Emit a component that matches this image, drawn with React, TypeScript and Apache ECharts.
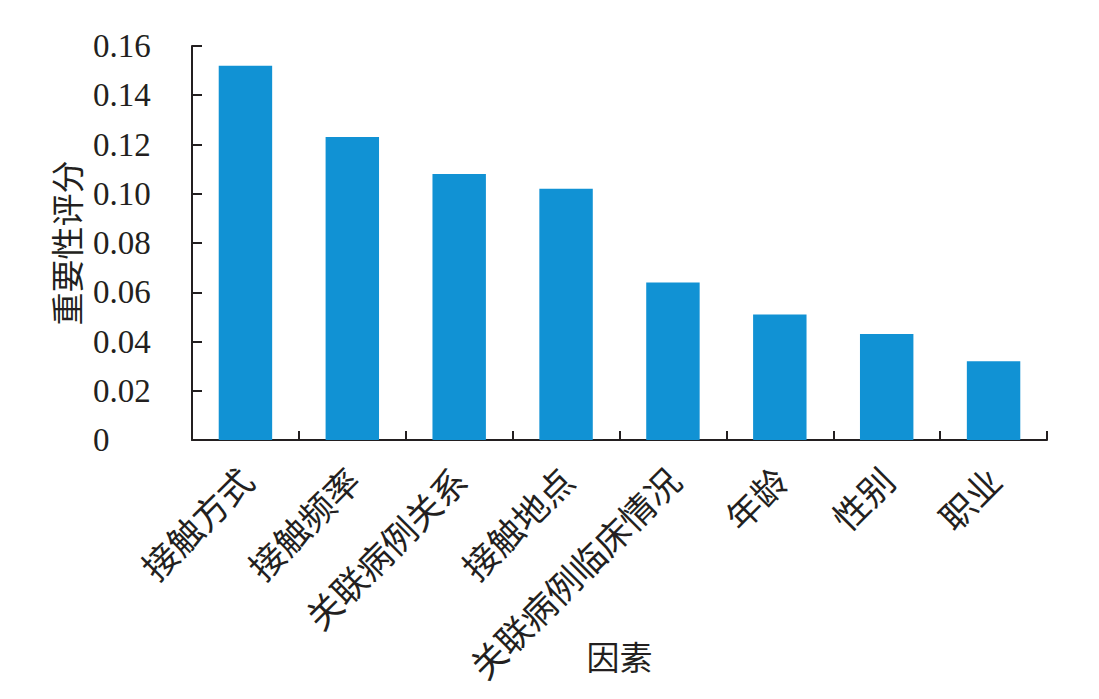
import React, { useEffect, useRef } from "react";
import * as echarts from "echarts";

const categories = ["接触方式", "接触频率", "关联病例关系", "接触地点", "关联病例临床情况", "年龄", "性别", "职业"];
const values = [0.152, 0.123, 0.108, 0.102, 0.064, 0.051, 0.043, 0.032];
const yTicks = [0, 0.02, 0.04, 0.06, 0.08, 0.1, 0.12, 0.14, 0.16];

const ink = "#231f20";
const serif = "'Liberation Serif', 'Noto Sans CJK SC', serif";
const cjk = "'Noto Sans CJK SC', serif";

export default function App() {
  const ref = useRef<HTMLDivElement>(null);
  useEffect(() => {
    if (!ref.current) return;
    const chart = echarts.init(ref.current, null, { renderer: "svg" });
    chart.setOption({
      animation: false,
      backgroundColor: "#ffffff",
      grid: { left: 192, right: 52, top: 46, bottom: 259, containLabel: false, outerBoundsMode: "none" },
      xAxis: {
        type: "category",
        data: categories,
        name: "因素",
        nameLocation: "middle",
        nameGap: 199,
        nameMoveOverlap: false,
        nameTextStyle: { fontFamily: cjk, fontSize: 33, color: ink },
        axisLine: { show: true, lineStyle: { color: ink, width: 2 } },
        axisTick: { show: true, inside: true, length: 9, alignWithLabel: false, lineStyle: { color: ink, width: 2 } },
        axisLabel: { rotate: 45, margin: 33, fontFamily: cjk, fontSize: 35, color: ink, interval: 0 },
      },
      yAxis: {
        type: "value",
        min: yTicks[0],
        max: yTicks[yTicks.length - 1],
        interval: 0.02,
        name: "重要性评分",
        nameLocation: "middle",
        nameRotate: 90,
        nameGap: 110,
        nameMoveOverlap: false,
        nameTextStyle: { fontFamily: cjk, fontSize: 33, color: ink },
        splitLine: { show: false },
        axisLine: { show: true, lineStyle: { color: ink, width: 2 } },
        axisTick: { show: true, inside: true, length: 10, lineStyle: { color: ink, width: 2 } },
        axisLabel: {
          margin: 99,
          align: "left",
          fontFamily: serif,
          fontSize: 33,
          color: ink,
          formatter: (v: number) => (v === 0 ? "0" : v.toFixed(2)),
        },
      },
      series: [
        {
          type: "bar",
          data: values,
          barWidth: "50%",
          itemStyle: { color: "#1192d4" },
        },
      ],
    });
    return () => chart.dispose();
  }, []);
  return <div ref={ref} style={{ width: 1099, height: 699, position: "absolute", left: 0, top: 0 }} />;
}
